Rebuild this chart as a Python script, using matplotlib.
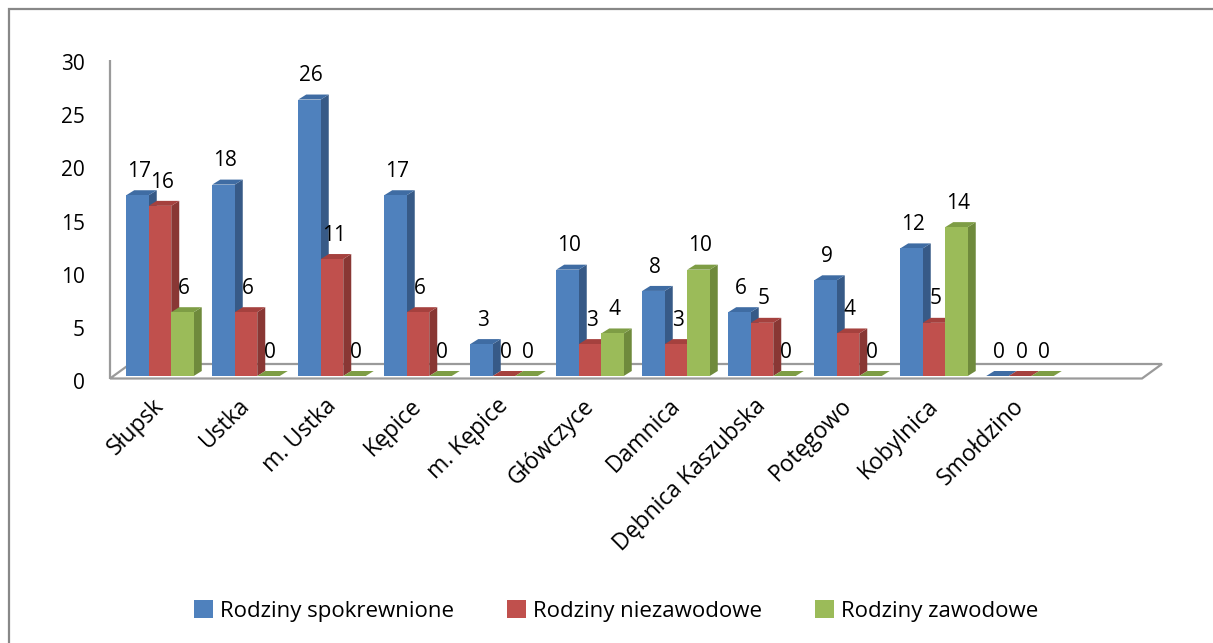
import matplotlib
matplotlib.use('Agg')
import matplotlib.pyplot as plt
from matplotlib.patches import Polygon, Rectangle, Patch
import matplotlib.transforms as mtransforms

# ---- data ----
categories = ['Słupsk', 'Ustka', 'm. Ustka', 'Kępice', 'm. Kępice', 'Główczyce',
              'Damnica', 'Dębnica Kaszubska', 'Potęgowo', 'Kobylnica', 'Smołdzino']
spokrewnione = [17, 18, 26, 17, 3, 10, 8, 6, 9, 12, 0]
niezawodowe = [16, 6, 11, 6, 0, 3, 3, 5, 4, 5, 0]
zawodowe = [6, 0, 0, 0, 0, 4, 10, 0, 0, 14, 0]
series_names = ['Rodziny spokrewnione', 'Rodziny niezawodowe', 'Rodziny zawodowe']
yticks = [0, 5, 10, 15, 20, 25, 30]

# ---- style ----
plt.rcParams['font.family'] = ['Open Sans', 'DejaVu Sans']
FS = 15
FS_X = 16.5
FS_LEG = 16
front_cols = ['#4F81BD', '#C0504D', '#9BBB59']
side_cols = ['#375A87', '#893734', '#6F8A3C']
top_cols = ['#3F6CA3', '#A5413E', '#7E9D45']
line_col = '#9A9A9A'

W, H, DPI = 1213, 643, 100
fig = plt.figure(figsize=(W / DPI, H / DPI), dpi=DPI)

ax_left, ax_right = 110, 1162
base_px, top_px = 376, 57
ax = fig.add_axes([ax_left / W, (H - base_px) / H,
                   (ax_right - ax_left) / W, (base_px - top_px) / H])
px_per_cat = 86.0
first_center = 160
xmin = -(first_center - ax_left) / px_per_cat
xmax = (ax_right - first_center) / px_per_cat
ax.set_xlim(xmin, xmax)
ax.set_ylim(0, 30)
ppu = (base_px - top_px) / 30.0

bw = 22.5 / px_per_cat
dx = 8 / px_per_cat
dy = 5 / ppu

for s in ax.spines.values():
    s.set_visible(False)

# floor
y_front = -2.5 / ppu
y_back = 12 / ppu
skew = 20 / px_per_cat
x_front_right = xmin + (1142 - ax_left) / px_per_cat
floor = Polygon([(xmin, y_front), (x_front_right, y_front),
                 (xmax, y_back), (xmin + skew, y_back)],
                closed=True, facecolor='white', edgecolor=line_col, lw=1.6,
                clip_on=False, zorder=1)
ax.add_patch(floor)
ax.plot([xmin, xmin], [y_front, 29.7], color=line_col, lw=1.6,
        clip_on=False, zorder=1, solid_capstyle='butt')

# bars
series = [spokrewnione, niezawodowe, zawodowe]
z = 2
for i, cat in enumerate(categories):
    for j, vals in enumerate(series):
        v = vals[i]
        left = i - 1.5 * bw + j * bw
        right = left + bw
        ax.add_patch(Polygon([(right, 0), (right + dx, dy), (right + dx, v + dy), (right, v)],
                             closed=True, facecolor=side_cols[j], edgecolor='none',
                             zorder=z, clip_on=False))
        ax.add_patch(Polygon([(left, v), (left + dx, v + dy), (right + dx, v + dy), (right, v)],
                             closed=True, facecolor=top_cols[j], edgecolor='none',
                             zorder=z, clip_on=False))
        if v > 0:
            ax.add_patch(Rectangle((left, 0), bw, v, facecolor=front_cols[j],
                                   edgecolor='none', zorder=z, clip_on=False))
        z += 1
        ax.annotate(str(v), xy=(left + bw / 2 + dx * 0.2, v + dy), xytext=(0, 6),
                    textcoords='offset points', ha='center', va='bottom',
                    fontsize=FS, color='black', zorder=200, annotation_clip=False)

# y axis ticks
ax.set_yticks(yticks)
ax.set_yticklabels([str(t) for t in yticks], fontsize=FS)
ax.tick_params(axis='y', length=0, pad=18)
off_y = mtransforms.ScaledTranslation(0, -5 / DPI, fig.dpi_scale_trans)
for lab in ax.get_yticklabels():
    lab.set_transform(lab.get_transform() + off_y)

# x axis ticks
ax.set_xticks(range(len(categories)))
ax.set_xticklabels(categories, fontsize=FS_X, rotation=45, ha='right', va='top',
                   rotation_mode='anchor')
ax.tick_params(axis='x', length=0, pad=13)
off_x = mtransforms.ScaledTranslation(-8 / DPI, 0, fig.dpi_scale_trans)
for lab in ax.get_xticklabels():
    lab.set_transform(lab.get_transform() + off_x)

# legend
handles = [Patch(facecolor=c, edgecolor='none') for c in front_cols]
fig.legend(handles, series_names, loc='center', bbox_to_anchor=(0.508, 0.05),
           ncol=3, frameon=False, fontsize=FS_LEG, handlelength=0.85, handleheight=0.85,
           handletextpad=0.3, columnspacing=2.4, borderpad=0)

# outer border of the chart area
fig.patches.append(Rectangle((8.5 / W, -0.1), 1.2, 1 - 8.5 / H + 0.1,
                             transform=fig.transFigure, fill=False,
                             edgecolor='#888888', lw=1.6))

fig.savefig('out.png', dpi=DPI)
